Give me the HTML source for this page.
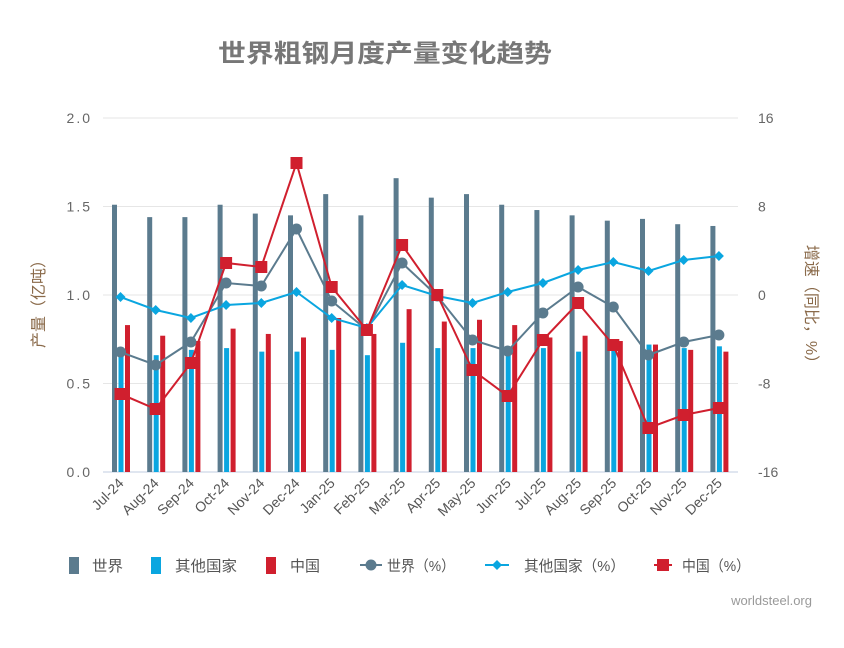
<!DOCTYPE html>
<html><head><meta charset="utf-8"><style>
body{margin:0;background:#fff;}
svg text{font-family:"Liberation Sans","Noto Sans CJK SC",sans-serif;}
</style></head><body>
<svg id="c" width="844" height="643" xmlns="http://www.w3.org/2000/svg"></svg>
<script>
const s=document.getElementById('c');
let h='';
h+='<text x="218" y="62" textLength="334" lengthAdjust="spacingAndGlyphs" font-size="25" font-weight="bold" fill="#777">世界粗钢月度产量变化趋势</text>';
for(let i=0;i<=4;i++){const y=472-i*88.5;
 h+=`<line x1="103" x2="738" y1="${y}" y2="${y}" stroke="${i==0?'#c0cce0':'#e6e6e6'}" stroke-width="1"/>`;
 h+=`<text x="92" y="${y+5}" text-anchor="end" font-size="14" fill="#666" letter-spacing="2">${(i*0.5).toFixed(1)}</text>`;
 h+=`<text x="758" y="${y+5}" font-size="14" fill="#666">${[-16,-8,0,8,16][i]}</text>`;}
h+='<text transform="translate(44,300) rotate(-90)" text-anchor="middle" font-size="16" fill="#8a6a4a">产量（亿吨）</text>';
h+='<text transform="translate(806,308) rotate(90)" text-anchor="middle" font-size="16" fill="#8a6a4a">增速（同比，%）</text>';
const labs=['Jul-24','Aug-24','Sep-24','Oct-24','Nov-24','Dec-24','Jan-25','Feb-25','Mar-25','Apr-25','May-25','Jun-25','Jul-25','Aug-25','Sep-25','Oct-25','Nov-25','Dec-25'];
const W=[1.51,1.44,1.44,1.51,1.46,1.45,1.57,1.45,1.66,1.55,1.57,1.51,1.48,1.45,1.42,1.43,1.40,1.39];
const O=[0.67,0.66,0.69,0.70,0.68,0.68,0.69,0.66,0.73,0.70,0.70,0.69,0.70,0.68,0.70,0.72,0.70,0.71];
const C=[0.83,0.77,0.74,0.81,0.78,0.76,0.87,0.78,0.92,0.85,0.86,0.83,0.76,0.77,0.74,0.72,0.69,0.68];
const LW=[352,365,342,283,286,229,301,330,263,296,340,351,313,287,307,355,342,335];
const LO=[297,310,318,305,303,292,318,328,285,296,303,292,283,270,262,271,260,256];
const LC=[394,409,363,263,267,163,287,330,245,295,370,396,340,303,345,428,415,408];
const cx=i=>120.5+35.2*i;
for(let i=0;i<18;i++){const x=cx(i);
 h+=`<rect x="${x-8.5}" y="${472-W[i]*177}" width="5" height="${W[i]*177}" fill="#5b7b8e"/>`;
 h+=`<rect x="${x-2}" y="${472-O[i]*177}" width="5" height="${O[i]*177}" fill="#0aa6e0"/>`;
 h+=`<rect x="${x+4.5}" y="${472-C[i]*177}" width="5" height="${C[i]*177}" fill="#d01f2e"/>`;
 h+=`<text transform="translate(${x+4},484) rotate(-45)" text-anchor="end" font-size="14" fill="#555">${labs[i]}</text>`;}
const pl=(a,c)=>`<polyline fill="none" stroke="${c}" stroke-width="2" points="${a.map((y,i)=>cx(i)+','+y).join(' ')}"/>`;
h+=pl(LW,'#5b7b8e');h+=pl(LO,'#0aa6e0');h+=pl(LC,'#d01f2e');
for(let i=0;i<18;i++){const x=cx(i);
 h+=`<circle cx="${x}" cy="${LW[i]}" r="5.5" fill="#5b7b8e"/>`;
 h+=`<path d="M${x} ${LO[i]-5}L${x+5} ${LO[i]}L${x} ${LO[i]+5}L${x-5} ${LO[i]}Z" fill="#0aa6e0"/>`;
 h+=`<rect x="${x-6}" y="${LC[i]-6}" width="12" height="12" fill="#d01f2e"/>`;}
const ly=565;
const t=(x,w,s)=>`<text x="${x}" y="${ly+6}" font-size="15" fill="#555" textLength="${w}" lengthAdjust="spacingAndGlyphs">${s}</text>`;
h+=`<rect x="69" y="${ly-8}" width="10" height="17" fill="#5b7b8e"/>`+t(92,31,'世界');
h+=`<rect x="151" y="${ly-8}" width="10" height="17" fill="#0aa6e0"/>`+t(175,62,'其他国家');
h+=`<rect x="266" y="${ly-8}" width="10" height="17" fill="#d01f2e"/>`+t(290,30,'中国');
h+=`<line x1="360" x2="382" y1="${ly}" y2="${ly}" stroke="#5b7b8e" stroke-width="2"/><circle cx="371" cy="${ly}" r="5.5" fill="#5b7b8e"/>`+t(387,68,'世界（%）');
h+=`<line x1="485" x2="509" y1="${ly}" y2="${ly}" stroke="#0aa6e0" stroke-width="2"/><path d="M497 ${ly-5}L502 ${ly}L497 ${ly+5}L492 ${ly}Z" fill="#0aa6e0"/>`+t(524,101,'其他国家（%）');
h+=`<line x1="654" x2="672" y1="${ly}" y2="${ly}" stroke="#d01f2e" stroke-width="2"/><rect x="657" y="${ly-6}" width="12" height="12" fill="#d01f2e"/>`+t(682,68,'中国（%）');
h+='<text x="812" y="605" text-anchor="end" font-size="13" fill="#999">worldsteel.org</text>';
s.innerHTML=h;
</script>
</body></html>
